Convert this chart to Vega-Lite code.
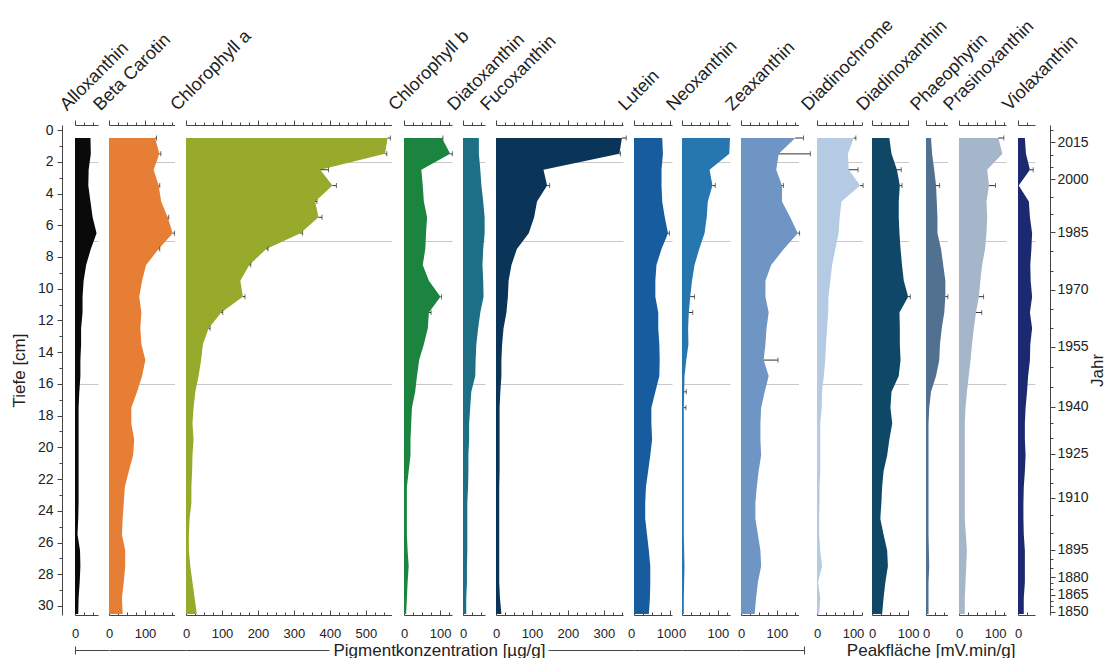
{
"$schema": "https://vega.github.io/schema/vega-lite/v6.json",
"background": "white",
"padding": {"left": 10, "top": 15, "right": 4, "bottom": 0},
"config": {
 "font": "Liberation Sans",
 "view": {"stroke": null},
 "axis": {"labelFont": "Liberation Sans", "titleFont": "Liberation Sans", "labelFontSize": 13, "titleFontSize": 17, "titleFontWeight": "normal", "labelColor": "#222", "titleColor": "#222", "domainColor": "#444", "tickColor": "#444", "grid": false, "gridColor": "#c8c8c8", "labelOverlap": false, "labelFlush": false, "labelBound": false}
},
"datasets": {
"pig": [
{"d":0.5,"Alloxanthin":43,"Beta Carotin":128,"Chlorophyll a":560,"Chlorophyll b":105,"Diatoxanthin":44,"Fucoxanthin":350,"Lutein":78,"Neoxanthin":134,"Zeaxanthin":151,"Diadinochrome":102,"Diadinoxanthin":48,"Phaeophytin":14,"Prasinoxanthin":109,"Violaxanthin":19},
{"d":1.5,"Alloxanthin":44,"Beta Carotin":140,"Chlorophyll a":553,"Chlorophyll b":128,"Diatoxanthin":44,"Fucoxanthin":343,"Lutein":80,"Neoxanthin":132,"Zeaxanthin":105,"Diadinochrome":86,"Diadinoxanthin":54,"Phaeophytin":17,"Prasinoxanthin":120,"Violaxanthin":22},
{"d":2.5,"Alloxanthin":38,"Beta Carotin":124,"Chlorophyll a":373,"Chlorophyll b":48,"Diatoxanthin":48,"Fucoxanthin":132,"Lutein":76,"Neoxanthin":77,"Zeaxanthin":98,"Diadinochrome":88,"Diadinoxanthin":69,"Phaeophytin":23,"Prasinoxanthin":78,"Violaxanthin":33},
{"d":3.5,"Alloxanthin":37,"Beta Carotin":138,"Chlorophyll a":407,"Chlorophyll b":52,"Diatoxanthin":51,"Fucoxanthin":142,"Lutein":76,"Neoxanthin":85,"Zeaxanthin":114,"Diadinochrome":120,"Diadinoxanthin":77,"Phaeophytin":28,"Prasinoxanthin":83,"Violaxanthin":2},
{"d":4.5,"Alloxanthin":43,"Beta Carotin":145,"Chlorophyll a":359,"Chlorophyll b":55,"Diatoxanthin":56,"Fucoxanthin":114,"Lutein":78,"Neoxanthin":72,"Zeaxanthin":114,"Diadinochrome":68,"Diadinoxanthin":74,"Phaeophytin":30,"Prasinoxanthin":76,"Violaxanthin":30},
{"d":5.5,"Alloxanthin":49,"Beta Carotin":163,"Chlorophyll a":368,"Chlorophyll b":64,"Diatoxanthin":60,"Fucoxanthin":106,"Lutein":85,"Neoxanthin":69,"Zeaxanthin":137,"Diadinochrome":63,"Diadinoxanthin":74,"Phaeophytin":32,"Prasinoxanthin":78,"Violaxanthin":33},
{"d":6.5,"Alloxanthin":60,"Beta Carotin":177,"Chlorophyll a":318,"Chlorophyll b":61,"Diatoxanthin":60,"Fucoxanthin":91,"Lutein":94,"Neoxanthin":63,"Zeaxanthin":158,"Diadinochrome":60,"Diadinoxanthin":76,"Phaeophytin":32,"Prasinoxanthin":76,"Violaxanthin":39},
{"d":7.5,"Alloxanthin":44,"Beta Carotin":138,"Chlorophyll a":223,"Chlorophyll b":59,"Diatoxanthin":56,"Fucoxanthin":58,"Lutein":76,"Neoxanthin":48,"Zeaxanthin":119,"Diadinochrome":51,"Diadinoxanthin":79,"Phaeophytin":42,"Prasinoxanthin":72,"Violaxanthin":37},
{"d":8.5,"Alloxanthin":31,"Beta Carotin":103,"Chlorophyll a":176,"Chlorophyll b":52,"Diatoxanthin":54,"Fucoxanthin":43,"Lutein":62,"Neoxanthin":35,"Zeaxanthin":84,"Diadinochrome":42,"Diadinoxanthin":83,"Phaeophytin":48,"Prasinoxanthin":64,"Violaxanthin":34},
{"d":9.5,"Alloxanthin":24,"Beta Carotin":92,"Chlorophyll a":151,"Chlorophyll b":69,"Diatoxanthin":56,"Fucoxanthin":35,"Lutein":59,"Neoxanthin":28,"Zeaxanthin":68,"Diadinochrome":37,"Diadinoxanthin":88,"Phaeophytin":54,"Prasinoxanthin":59,"Violaxanthin":35},
{"d":10.5,"Alloxanthin":21,"Beta Carotin":84,"Chlorophyll a":158,"Chlorophyll b":101,"Diatoxanthin":57,"Fucoxanthin":33,"Lutein":59,"Neoxanthin":23,"Zeaxanthin":68,"Diadinochrome":32,"Diadinoxanthin":100,"Phaeophytin":54,"Prasinoxanthin":55,"Violaxanthin":39},
{"d":11.5,"Alloxanthin":21,"Beta Carotin":90,"Chlorophyll a":98,"Chlorophyll b":69,"Diatoxanthin":48,"Fucoxanthin":29,"Lutein":67,"Neoxanthin":19,"Zeaxanthin":77,"Diadinochrome":31,"Diadinoxanthin":76,"Phaeophytin":51,"Prasinoxanthin":47,"Violaxanthin":33},
{"d":12.5,"Alloxanthin":17,"Beta Carotin":87,"Chlorophyll a":63,"Chlorophyll b":66,"Diatoxanthin":42,"Fucoxanthin":21,"Lutein":67,"Neoxanthin":17,"Zeaxanthin":71,"Diadinochrome":28,"Diadinoxanthin":77,"Phaeophytin":44,"Prasinoxanthin":41,"Violaxanthin":39},
{"d":13.5,"Alloxanthin":17,"Beta Carotin":90,"Chlorophyll a":47,"Chlorophyll b":55,"Diatoxanthin":37,"Fucoxanthin":17,"Lutein":70,"Neoxanthin":18,"Zeaxanthin":68,"Diadinochrome":25,"Diadinoxanthin":77,"Phaeophytin":39,"Prasinoxanthin":36,"Violaxanthin":34},
{"d":14.5,"Alloxanthin":15,"Beta Carotin":101,"Chlorophyll a":42,"Chlorophyll b":42,"Diatoxanthin":35,"Fucoxanthin":15,"Lutein":71,"Neoxanthin":12,"Zeaxanthin":63,"Diadinochrome":23,"Diadinoxanthin":79,"Phaeophytin":37,"Prasinoxanthin":32,"Violaxanthin":33},
{"d":15.5,"Alloxanthin":15,"Beta Carotin":92,"Chlorophyll a":35,"Chlorophyll b":36,"Diatoxanthin":34,"Fucoxanthin":15,"Lutein":70,"Neoxanthin":7,"Zeaxanthin":77,"Diadinochrome":19,"Diadinoxanthin":74,"Phaeophytin":28,"Prasinoxanthin":27,"Violaxanthin":28},
{"d":16.5,"Alloxanthin":12,"Beta Carotin":78,"Chlorophyll a":26,"Chlorophyll b":31,"Diatoxanthin":23,"Fucoxanthin":12,"Lutein":59,"Neoxanthin":6,"Zeaxanthin":66,"Diadinochrome":14,"Diadinoxanthin":54,"Phaeophytin":14,"Prasinoxanthin":22,"Violaxanthin":25},
{"d":17.5,"Alloxanthin":10,"Beta Carotin":62,"Chlorophyll a":21,"Chlorophyll b":22,"Diatoxanthin":20,"Fucoxanthin":10,"Lutein":48,"Neoxanthin":5,"Zeaxanthin":56,"Diadinochrome":13,"Diadinoxanthin":51,"Phaeophytin":9,"Prasinoxanthin":18,"Violaxanthin":21},
{"d":18.5,"Alloxanthin":10,"Beta Carotin":62,"Chlorophyll a":18,"Chlorophyll b":20,"Diatoxanthin":17,"Fucoxanthin":10,"Lutein":48,"Neoxanthin":5,"Zeaxanthin":54,"Diadinochrome":9,"Diadinoxanthin":56,"Phaeophytin":7,"Prasinoxanthin":16,"Violaxanthin":19},
{"d":19.5,"Alloxanthin":10,"Beta Carotin":70,"Chlorophyll a":21,"Chlorophyll b":18,"Diatoxanthin":17,"Fucoxanthin":10,"Lutein":50,"Neoxanthin":5,"Zeaxanthin":54,"Diadinochrome":9,"Diadinoxanthin":48,"Phaeophytin":7,"Prasinoxanthin":16,"Violaxanthin":19},
{"d":20.5,"Alloxanthin":10,"Beta Carotin":67,"Chlorophyll a":18,"Chlorophyll b":18,"Diatoxanthin":15,"Fucoxanthin":10,"Lutein":45,"Neoxanthin":5,"Zeaxanthin":56,"Diadinochrome":9,"Diadinoxanthin":42,"Phaeophytin":7,"Prasinoxanthin":16,"Violaxanthin":21},
{"d":21.5,"Alloxanthin":10,"Beta Carotin":55,"Chlorophyll a":17,"Chlorophyll b":13,"Diatoxanthin":15,"Fucoxanthin":10,"Lutein":39,"Neoxanthin":5,"Zeaxanthin":49,"Diadinochrome":9,"Diadinoxanthin":32,"Phaeophytin":7,"Prasinoxanthin":16,"Violaxanthin":19},
{"d":22.5,"Alloxanthin":10,"Beta Carotin":44,"Chlorophyll a":15,"Chlorophyll b":8,"Diatoxanthin":14,"Fucoxanthin":9,"Lutein":33,"Neoxanthin":5,"Zeaxanthin":44,"Diadinochrome":7,"Diadinoxanthin":28,"Phaeophytin":7,"Prasinoxanthin":16,"Violaxanthin":16},
{"d":23.5,"Alloxanthin":10,"Beta Carotin":41,"Chlorophyll a":15,"Chlorophyll b":8,"Diatoxanthin":12,"Fucoxanthin":9,"Lutein":31,"Neoxanthin":5,"Zeaxanthin":40,"Diadinochrome":7,"Diadinoxanthin":26,"Phaeophytin":7,"Prasinoxanthin":16,"Violaxanthin":15},
{"d":24.5,"Alloxanthin":9,"Beta Carotin":38,"Chlorophyll a":10,"Chlorophyll b":8,"Diatoxanthin":12,"Fucoxanthin":9,"Lutein":31,"Neoxanthin":5,"Zeaxanthin":40,"Diadinochrome":6,"Diadinoxanthin":23,"Phaeophytin":7,"Prasinoxanthin":16,"Violaxanthin":15},
{"d":25.5,"Alloxanthin":7,"Beta Carotin":36,"Chlorophyll a":8,"Chlorophyll b":8,"Diatoxanthin":12,"Fucoxanthin":9,"Lutein":36,"Neoxanthin":5,"Zeaxanthin":47,"Diadinochrome":6,"Diadinoxanthin":32,"Phaeophytin":7,"Prasinoxanthin":19,"Violaxanthin":16},
{"d":26.5,"Alloxanthin":14,"Beta Carotin":45,"Chlorophyll a":8,"Chlorophyll b":10,"Diatoxanthin":12,"Fucoxanthin":9,"Lutein":41,"Neoxanthin":6,"Zeaxanthin":54,"Diadinochrome":9,"Diadinoxanthin":42,"Phaeophytin":8,"Prasinoxanthin":22,"Violaxanthin":19},
{"d":27.5,"Alloxanthin":15,"Beta Carotin":45,"Chlorophyll a":12,"Chlorophyll b":13,"Diatoxanthin":11,"Fucoxanthin":9,"Lutein":45,"Neoxanthin":7,"Zeaxanthin":56,"Diadinochrome":14,"Diadinoxanthin":44,"Phaeophytin":9,"Prasinoxanthin":20,"Violaxanthin":19},
{"d":28.5,"Alloxanthin":13,"Beta Carotin":41,"Chlorophyll a":18,"Chlorophyll b":10,"Diatoxanthin":11,"Fucoxanthin":9,"Lutein":45,"Neoxanthin":6,"Zeaxanthin":47,"Diadinochrome":3,"Diadinoxanthin":37,"Phaeophytin":7,"Prasinoxanthin":18,"Violaxanthin":19},
{"d":29.5,"Alloxanthin":10,"Beta Carotin":36,"Chlorophyll a":24,"Chlorophyll b":8,"Diatoxanthin":9,"Fucoxanthin":11,"Lutein":44,"Neoxanthin":5,"Zeaxanthin":42,"Diadinochrome":9,"Diadinoxanthin":32,"Phaeophytin":7,"Prasinoxanthin":16,"Violaxanthin":16},
{"d":30.5,"Alloxanthin":9,"Beta Carotin":38,"Chlorophyll a":30,"Chlorophyll b":6,"Diatoxanthin":9,"Fucoxanthin":15,"Lutein":41,"Neoxanthin":5,"Zeaxanthin":38,"Diadinochrome":6,"Diadinoxanthin":28,"Phaeophytin":7,"Prasinoxanthin":16,"Violaxanthin":16}
],
"err": [
{"p":"Beta Carotin","d":0.5,"lo":128,"hi":132},
{"p":"Beta Carotin","d":1.5,"lo":140,"hi":144},
{"p":"Beta Carotin","d":3.5,"lo":138,"hi":141},
{"p":"Beta Carotin","d":5.5,"lo":163,"hi":166},
{"p":"Beta Carotin","d":6.5,"lo":177,"hi":182},
{"p":"Beta Carotin","d":7.5,"lo":138,"hi":141},
{"p":"Chlorophyll a","d":0.5,"lo":560,"hi":568},
{"p":"Chlorophyll a","d":1.5,"lo":553,"hi":558},
{"p":"Chlorophyll a","d":2.5,"lo":373,"hi":396},
{"p":"Chlorophyll a","d":3.5,"lo":407,"hi":418},
{"p":"Chlorophyll a","d":4.5,"lo":359,"hi":364},
{"p":"Chlorophyll a","d":5.5,"lo":368,"hi":378},
{"p":"Chlorophyll a","d":6.5,"lo":318,"hi":324},
{"p":"Chlorophyll a","d":7.5,"lo":223,"hi":228},
{"p":"Chlorophyll a","d":8.5,"lo":176,"hi":180},
{"p":"Chlorophyll a","d":10.5,"lo":158,"hi":164},
{"p":"Chlorophyll a","d":11.5,"lo":98,"hi":102},
{"p":"Chlorophyll a","d":12.5,"lo":63,"hi":67},
{"p":"Chlorophyll b","d":0.5,"lo":105,"hi":108},
{"p":"Chlorophyll b","d":1.5,"lo":128,"hi":134},
{"p":"Chlorophyll b","d":10.5,"lo":101,"hi":104},
{"p":"Chlorophyll b","d":11.5,"lo":69,"hi":75},
{"p":"Fucoxanthin","d":0.5,"lo":350,"hi":362},
{"p":"Fucoxanthin","d":1.5,"lo":343,"hi":346},
{"p":"Fucoxanthin","d":3.5,"lo":142,"hi":149},
{"p":"Lutein","d":6.5,"lo":94,"hi":98},
{"p":"Neoxanthin","d":3.5,"lo":85,"hi":93},
{"p":"Neoxanthin","d":10.5,"lo":23,"hi":35},
{"p":"Neoxanthin","d":11.5,"lo":19,"hi":30},
{"p":"Neoxanthin","d":16.5,"lo":6,"hi":12},
{"p":"Neoxanthin","d":17.5,"lo":5,"hi":11},
{"p":"Zeaxanthin","d":0.5,"lo":151,"hi":174},
{"p":"Zeaxanthin","d":1.5,"lo":105,"hi":193},
{"p":"Zeaxanthin","d":3.5,"lo":114,"hi":118},
{"p":"Zeaxanthin","d":6.5,"lo":158,"hi":163},
{"p":"Zeaxanthin","d":14.5,"lo":63,"hi":103},
{"p":"Diadinochrome","d":0.5,"lo":102,"hi":108},
{"p":"Diadinochrome","d":2.5,"lo":88,"hi":114},
{"p":"Diadinochrome","d":3.5,"lo":120,"hi":128},
{"p":"Diadinoxanthin","d":2.5,"lo":69,"hi":81},
{"p":"Diadinoxanthin","d":3.5,"lo":77,"hi":83},
{"p":"Diadinoxanthin","d":10.5,"lo":100,"hi":106},
{"p":"Phaeophytin","d":3.5,"lo":28,"hi":38},
{"p":"Phaeophytin","d":10.5,"lo":54,"hi":61},
{"p":"Prasinoxanthin","d":0.5,"lo":109,"hi":124},
{"p":"Prasinoxanthin","d":3.5,"lo":83,"hi":101},
{"p":"Prasinoxanthin","d":10.5,"lo":55,"hi":68},
{"p":"Prasinoxanthin","d":11.5,"lo":47,"hi":63},
{"p":"Violaxanthin","d":2.5,"lo":33,"hi":42}
],
"brk": [{"b": 0.5}]
},
"spacing": 0,
"bounds": "flush",
"hconcat": [
{"width": 46.5, "height": 490, "resolve": {"scale": {"x": "independent"}, "axis": {"x": "independent", "y": "independent"}}, "layer": [
 {"data": {"name": "pig"}, "mark": {"type": "area", "orient": "horizontal", "color": "#0a0a0a"}, "encoding": {
  "y": {"field": "d", "type": "quantitative", "scale": {"domain": [-0.32, 30.57], "reverse": true, "nice": false, "zero": false}, "axis": {"orient": "left", "values": [0,1,2,3,4,5,6,7,8,9,10,11,12,13,14,15,16,17,18,19,20,21,22,23,24,25,26,27,28,29,30], "labelExpr": "datum.value % 2 == 0 ? datum.label : ''", "tickSize": {"condition": {"test": "datum.value % 2 == 0", "value": 5}, "value": 3}, "labelFontSize": 14, "labelPadding": 4, "title": "Tiefe [cm]", "titlePadding": 9, "grid": true, "gridOpacity": {"condition": {"test": "datum.value == 2 || datum.value == 7 || datum.value == 16", "value": 1}, "value": 0}}},
  "x": {"field": "Alloxanthin", "type": "quantitative", "stack": null, "scale": {"domain": [0, 64], "range": [13, 36], "nice": false}, "axis": {"orient": "bottom", "values": [0,25,50], "labelExpr": "datum.value % 100 == 0 ? datum.label : ''", "tickSize": {"condition": {"test": "datum.value % 100 == 0", "value": -5}, "value": -3}, "labelPadding": 17, "title": null}}}},
 {"data": {"name": "err"}, "transform": [{"filter": "datum.p == 'Alloxanthin'"}], "mark": {"type": "rule", "color": "#333"}, "encoding": {
  "y": {"field": "d", "type": "quantitative", "scale": {"domain": [-0.32, 30.57], "reverse": true, "nice": false, "zero": false}, "axis": null},
  "x": {"field": "lo", "type": "quantitative", "scale": {"domain": [0, 64], "range": [13, 36], "nice": false}, "axis": {"orient": "top", "values": [0,25,50], "labels": false, "tickSize": {"condition": {"test": "datum.value % 100 == 0", "value": 5}, "value": 3}, "title": "Alloxanthin", "titleFontSize": 18, "titleAngle": -45, "titleAlign": "left", "titleBaseline": "alphabetic", "titleX": 4.5, "titleY": -14}},
  "x2": {"field": "hi"}}},
 {"data": {"name": "brk"}, "mark": {"type": "point", "opacity": 0}, "encoding": {
  "x": {"field": "b", "type": "quantitative", "scale": {"domain": [0, 1], "range": [13, 46.5], "nice": false}, "axis": {"orient": "bottom", "offset": 35, "values": [0], "labels": false, "tickSize": 4, "title": null}}}},
 {"data": {"name": "brk"}, "mark": {"type": "point", "opacity": 0}, "encoding": {
  "x": {"field": "b", "type": "quantitative", "scale": {"domain": [0, 1], "range": [13, 46.5], "nice": false}, "axis": {"orient": "bottom", "offset": 35, "values": [0], "labels": false, "domain": false, "tickSize": -4, "title": null}}}}
]},
{"width": 77, "height": 490, "resolve": {"scale": {"x": "independent"}, "axis": {"x": "independent", "y": "independent"}}, "layer": [
 {"data": {"name": "pig"}, "mark": {"type": "area", "orient": "horizontal", "color": "#e67e35"}, "encoding": {
  "y": {"field": "d", "type": "quantitative", "scale": {"domain": [-0.32, 30.57], "reverse": true, "nice": false, "zero": false}, "axis": {"values": [2,7,16], "grid": true, "labels": false, "ticks": false, "domain": false, "title": null}},
  "x": {"field": "Beta Carotin", "type": "quantitative", "stack": null, "scale": {"domain": [0, 182], "range": [0, 65.5], "nice": false}, "axis": {"orient": "bottom", "values": [0,25,50,75,100,125,150,175], "labelExpr": "datum.value % 100 == 0 ? datum.label : ''", "tickSize": {"condition": {"test": "datum.value % 100 == 0", "value": -5}, "value": -3}, "labelPadding": 17, "title": null}}}},
 {"data": {"name": "err"}, "transform": [{"filter": "datum.p == 'Beta Carotin'"}], "mark": {"type": "rule", "color": "#333"}, "encoding": {
  "y": {"field": "d", "type": "quantitative", "scale": {"domain": [-0.32, 30.57], "reverse": true, "nice": false, "zero": false}, "axis": null},
  "x": {"field": "lo", "type": "quantitative", "scale": {"domain": [0, 182], "range": [0, 65.5], "nice": false}, "axis": {"orient": "top", "values": [0,25,50,75,100,125,150,175], "labels": false, "tickSize": {"condition": {"test": "datum.value % 100 == 0", "value": 5}, "value": 3}, "title": "Beta Carotin", "titleFontSize": 18, "titleAngle": -45, "titleAlign": "left", "titleBaseline": "alphabetic", "titleX": -9, "titleY": -14}},
  "x2": {"field": "hi"}}},
 {"data": {"name": "err"}, "transform": [{"filter": "datum.p == 'Beta Carotin'"}], "mark": {"type": "tick", "orient": "vertical", "size": 5, "thickness": 1, "color": "#333"}, "encoding": {
  "y": {"field": "d", "type": "quantitative", "scale": {"domain": [-0.32, 30.57], "reverse": true, "nice": false, "zero": false}, "axis": null},
  "x": {"field": "hi", "type": "quantitative", "scale": {"domain": [0, 182], "range": [0, 65.5], "nice": false}, "axis": null}}},
 {"data": {"name": "brk"}, "mark": {"type": "point", "opacity": 0}, "encoding": {
  "x": {"field": "b", "type": "quantitative", "scale": {"domain": [0, 1], "nice": false}, "axis": {"orient": "bottom", "offset": 35, "ticks": false, "labels": false, "title": null}}}}
]},
{"width": 218, "height": 490, "resolve": {"scale": {"x": "independent"}, "axis": {"x": "independent", "y": "independent"}}, "layer": [
 {"data": {"name": "pig"}, "mark": {"type": "area", "orient": "horizontal", "color": "#97aa2c"}, "encoding": {
  "y": {"field": "d", "type": "quantitative", "scale": {"domain": [-0.32, 30.57], "reverse": true, "nice": false, "zero": false}, "axis": {"values": [2,7,16], "grid": true, "labels": false, "ticks": false, "domain": false, "title": null}},
  "x": {"field": "Chlorophyll a", "type": "quantitative", "stack": null, "scale": {"domain": [0, 571], "range": [0, 205.5], "nice": false}, "axis": {"orient": "bottom", "values": [0,25,50,75,100,125,150,175,200,225,250,275,300,325,350,375,400,425,450,475,500,525,550], "labelExpr": "datum.value % 100 == 0 ? datum.label : ''", "tickSize": {"condition": {"test": "datum.value % 100 == 0", "value": -5}, "value": -3}, "labelPadding": 17, "title": "Pigmentkonzentration [µg/g]", "titleX": 253, "titleY": 35, "titleAlign": "center", "titleBaseline": "middle"}}}},
 {"data": {"name": "err"}, "transform": [{"filter": "datum.p == 'Chlorophyll a'"}], "mark": {"type": "rule", "color": "#333"}, "encoding": {
  "y": {"field": "d", "type": "quantitative", "scale": {"domain": [-0.32, 30.57], "reverse": true, "nice": false, "zero": false}, "axis": null},
  "x": {"field": "lo", "type": "quantitative", "scale": {"domain": [0, 571], "range": [0, 205.5], "nice": false}, "axis": {"orient": "top", "values": [0,25,50,75,100,125,150,175,200,225,250,275,300,325,350,375,400,425,450,475,500,525,550], "labels": false, "tickSize": {"condition": {"test": "datum.value % 100 == 0", "value": 5}, "value": 3}, "title": "Chlorophyll a", "titleFontSize": 18, "titleAngle": -45, "titleAlign": "left", "titleBaseline": "alphabetic", "titleX": -9, "titleY": -14}},
  "x2": {"field": "hi"}}},
 {"data": {"name": "err"}, "transform": [{"filter": "datum.p == 'Chlorophyll a'"}], "mark": {"type": "tick", "orient": "vertical", "size": 5, "thickness": 1, "color": "#333"}, "encoding": {
  "y": {"field": "d", "type": "quantitative", "scale": {"domain": [-0.32, 30.57], "reverse": true, "nice": false, "zero": false}, "axis": null},
  "x": {"field": "hi", "type": "quantitative", "scale": {"domain": [0, 571], "range": [0, 205.5], "nice": false}, "axis": null}}},
 {"data": {"name": "brk"}, "mark": {"type": "point", "opacity": 0}, "encoding": {
  "x": {"field": "b", "type": "quantitative", "scale": {"domain": [0, 1], "range": [0, 143], "nice": false}, "axis": {"orient": "bottom", "offset": 35, "ticks": false, "labels": false, "title": null}}}}
]},
{"width": 59, "height": 490, "resolve": {"scale": {"x": "independent"}, "axis": {"x": "independent", "y": "independent"}}, "layer": [
 {"data": {"name": "pig"}, "mark": {"type": "area", "orient": "horizontal", "color": "#1b8540"}, "encoding": {
  "y": {"field": "d", "type": "quantitative", "scale": {"domain": [-0.32, 30.57], "reverse": true, "nice": false, "zero": false}, "axis": {"values": [2,7,16], "grid": true, "labels": false, "ticks": false, "domain": false, "title": null}},
  "x": {"field": "Chlorophyll b", "type": "quantitative", "stack": null, "scale": {"domain": [0, 133], "range": [0, 48], "nice": false}, "axis": {"orient": "bottom", "values": [0,25,50,75,100,125], "labelExpr": "datum.value % 100 == 0 ? datum.label : ''", "tickSize": {"condition": {"test": "datum.value % 100 == 0", "value": -5}, "value": -3}, "labelPadding": 17, "title": null}}}},
 {"data": {"name": "err"}, "transform": [{"filter": "datum.p == 'Chlorophyll b'"}], "mark": {"type": "rule", "color": "#333"}, "encoding": {
  "y": {"field": "d", "type": "quantitative", "scale": {"domain": [-0.32, 30.57], "reverse": true, "nice": false, "zero": false}, "axis": null},
  "x": {"field": "lo", "type": "quantitative", "scale": {"domain": [0, 133], "range": [0, 48], "nice": false}, "axis": {"orient": "top", "values": [0,25,50,75,100,125], "labels": false, "tickSize": {"condition": {"test": "datum.value % 100 == 0", "value": 5}, "value": 3}, "title": "Chlorophyll b", "titleFontSize": 18, "titleAngle": -45, "titleAlign": "left", "titleBaseline": "alphabetic", "titleX": -9, "titleY": -14}},
  "x2": {"field": "hi"}}},
 {"data": {"name": "err"}, "transform": [{"filter": "datum.p == 'Chlorophyll b'"}], "mark": {"type": "tick", "orient": "vertical", "size": 5, "thickness": 1, "color": "#333"}, "encoding": {
  "y": {"field": "d", "type": "quantitative", "scale": {"domain": [-0.32, 30.57], "reverse": true, "nice": false, "zero": false}, "axis": null},
  "x": {"field": "hi", "type": "quantitative", "scale": {"domain": [0, 133], "range": [0, 48], "nice": false}, "axis": null}}}
]},
{"width": 33, "height": 490, "resolve": {"scale": {"x": "independent"}, "axis": {"x": "independent", "y": "independent"}}, "layer": [
 {"data": {"name": "pig"}, "mark": {"type": "area", "orient": "horizontal", "color": "#1d6f86"}, "encoding": {
  "y": {"field": "d", "type": "quantitative", "scale": {"domain": [-0.32, 30.57], "reverse": true, "nice": false, "zero": false}, "axis": {"values": [2,7,16], "grid": true, "labels": false, "ticks": false, "domain": false, "title": null}},
  "x": {"field": "Diatoxanthin", "type": "quantitative", "stack": null, "scale": {"domain": [0, 61], "range": [0, 22], "nice": false}, "axis": {"orient": "bottom", "values": [0,25,50], "labelExpr": "datum.value % 100 == 0 ? datum.label : ''", "tickSize": {"condition": {"test": "datum.value % 100 == 0", "value": -5}, "value": -3}, "labelPadding": 17, "title": null}}}},
 {"data": {"name": "err"}, "transform": [{"filter": "datum.p == 'Diatoxanthin'"}], "mark": {"type": "rule", "color": "#333"}, "encoding": {
  "y": {"field": "d", "type": "quantitative", "scale": {"domain": [-0.32, 30.57], "reverse": true, "nice": false, "zero": false}, "axis": null},
  "x": {"field": "lo", "type": "quantitative", "scale": {"domain": [0, 61], "range": [0, 22], "nice": false}, "axis": {"orient": "top", "values": [0,25,50], "labels": false, "tickSize": {"condition": {"test": "datum.value % 100 == 0", "value": 5}, "value": 3}, "title": "Diatoxanthin", "titleFontSize": 18, "titleAngle": -45, "titleAlign": "left", "titleBaseline": "alphabetic", "titleX": -9, "titleY": -14}},
  "x2": {"field": "hi"}}}
]},
{"width": 138, "height": 490, "resolve": {"scale": {"x": "independent"}, "axis": {"x": "independent", "y": "independent"}}, "layer": [
 {"data": {"name": "pig"}, "mark": {"type": "area", "orient": "horizontal", "color": "#0b3459"}, "encoding": {
  "y": {"field": "d", "type": "quantitative", "scale": {"domain": [-0.32, 30.57], "reverse": true, "nice": false, "zero": false}, "axis": {"values": [2,7,16], "grid": true, "labels": false, "ticks": false, "domain": false, "title": null}},
  "x": {"field": "Fucoxanthin", "type": "quantitative", "stack": null, "scale": {"domain": [0, 353], "range": [0, 127], "nice": false}, "axis": {"orient": "bottom", "values": [0,25,50,75,100,125,150,175,200,225,250,275,300,325,350], "labelExpr": "datum.value % 100 == 0 ? datum.label : ''", "tickSize": {"condition": {"test": "datum.value % 100 == 0", "value": -5}, "value": -3}, "labelPadding": 17, "title": null}}}},
 {"data": {"name": "err"}, "transform": [{"filter": "datum.p == 'Fucoxanthin'"}], "mark": {"type": "rule", "color": "#333"}, "encoding": {
  "y": {"field": "d", "type": "quantitative", "scale": {"domain": [-0.32, 30.57], "reverse": true, "nice": false, "zero": false}, "axis": null},
  "x": {"field": "lo", "type": "quantitative", "scale": {"domain": [0, 353], "range": [0, 127], "nice": false}, "axis": {"orient": "top", "values": [0,25,50,75,100,125,150,175,200,225,250,275,300,325,350], "labels": false, "tickSize": {"condition": {"test": "datum.value % 100 == 0", "value": 5}, "value": 3}, "title": "Fucoxanthin", "titleFontSize": 18, "titleAngle": -45, "titleAlign": "left", "titleBaseline": "alphabetic", "titleX": -9, "titleY": -14}},
  "x2": {"field": "hi"}}},
 {"data": {"name": "err"}, "transform": [{"filter": "datum.p == 'Fucoxanthin'"}], "mark": {"type": "tick", "orient": "vertical", "size": 5, "thickness": 1, "color": "#333"}, "encoding": {
  "y": {"field": "d", "type": "quantitative", "scale": {"domain": [-0.32, 30.57], "reverse": true, "nice": false, "zero": false}, "axis": null},
  "x": {"field": "hi", "type": "quantitative", "scale": {"domain": [0, 353], "range": [0, 127], "nice": false}, "axis": null}}},
 {"data": {"name": "brk"}, "mark": {"type": "point", "opacity": 0}, "encoding": {
  "x": {"field": "b", "type": "quantitative", "scale": {"domain": [0, 1], "range": [52, 138], "nice": false}, "axis": {"orient": "bottom", "offset": 35, "ticks": false, "labels": false, "title": null}}}}
]},
{"width": 48, "height": 490, "resolve": {"scale": {"x": "independent"}, "axis": {"x": "independent", "y": "independent"}}, "layer": [
 {"data": {"name": "pig"}, "mark": {"type": "area", "orient": "horizontal", "color": "#165c9e"}, "encoding": {
  "y": {"field": "d", "type": "quantitative", "scale": {"domain": [-0.32, 30.57], "reverse": true, "nice": false, "zero": false}, "axis": {"values": [2,7,16], "grid": true, "labels": false, "ticks": false, "domain": false, "title": null}},
  "x": {"field": "Lutein", "type": "quantitative", "stack": null, "scale": {"domain": [0, 105], "range": [0, 38], "nice": false}, "axis": {"orient": "bottom", "values": [0,25,50,75,100], "labelExpr": "datum.value % 100 == 0 ? datum.label : ''", "tickSize": {"condition": {"test": "datum.value % 100 == 0", "value": -5}, "value": -3}, "labelPadding": 17, "labelOffset": -3, "title": null}}}},
 {"data": {"name": "err"}, "transform": [{"filter": "datum.p == 'Lutein'"}], "mark": {"type": "rule", "color": "#333"}, "encoding": {
  "y": {"field": "d", "type": "quantitative", "scale": {"domain": [-0.32, 30.57], "reverse": true, "nice": false, "zero": false}, "axis": null},
  "x": {"field": "lo", "type": "quantitative", "scale": {"domain": [0, 105], "range": [0, 38], "nice": false}, "axis": {"orient": "top", "values": [0,25,50,75,100], "labels": false, "tickSize": {"condition": {"test": "datum.value % 100 == 0", "value": 5}, "value": 3}, "title": "Lutein", "titleFontSize": 18, "titleAngle": -45, "titleAlign": "left", "titleBaseline": "alphabetic", "titleX": -9, "titleY": -14}},
  "x2": {"field": "hi"}}},
 {"data": {"name": "err"}, "transform": [{"filter": "datum.p == 'Lutein'"}], "mark": {"type": "tick", "orient": "vertical", "size": 5, "thickness": 1, "color": "#333"}, "encoding": {
  "y": {"field": "d", "type": "quantitative", "scale": {"domain": [-0.32, 30.57], "reverse": true, "nice": false, "zero": false}, "axis": null},
  "x": {"field": "hi", "type": "quantitative", "scale": {"domain": [0, 105], "range": [0, 38], "nice": false}, "axis": null}}},
 {"data": {"name": "brk"}, "mark": {"type": "point", "opacity": 0}, "encoding": {
  "x": {"field": "b", "type": "quantitative", "scale": {"domain": [0, 1], "nice": false}, "axis": {"orient": "bottom", "offset": 35, "ticks": false, "labels": false, "title": null}}}}
]},
{"width": 59, "height": 490, "resolve": {"scale": {"x": "independent"}, "axis": {"x": "independent", "y": "independent"}}, "layer": [
 {"data": {"name": "pig"}, "mark": {"type": "area", "orient": "horizontal", "color": "#2676b0"}, "encoding": {
  "y": {"field": "d", "type": "quantitative", "scale": {"domain": [-0.32, 30.57], "reverse": true, "nice": false, "zero": false}, "axis": {"values": [2,7,16], "grid": true, "labels": false, "ticks": false, "domain": false, "title": null}},
  "x": {"field": "Neoxanthin", "type": "quantitative", "stack": null, "scale": {"domain": [0, 134], "range": [0, 48], "nice": false}, "axis": {"orient": "bottom", "values": [0,25,50,75,100,125], "labelExpr": "datum.value % 100 == 0 ? datum.label : ''", "tickSize": {"condition": {"test": "datum.value % 100 == 0", "value": -5}, "value": -3}, "labelPadding": 17, "title": null}}}},
 {"data": {"name": "err"}, "transform": [{"filter": "datum.p == 'Neoxanthin'"}], "mark": {"type": "rule", "color": "#333"}, "encoding": {
  "y": {"field": "d", "type": "quantitative", "scale": {"domain": [-0.32, 30.57], "reverse": true, "nice": false, "zero": false}, "axis": null},
  "x": {"field": "lo", "type": "quantitative", "scale": {"domain": [0, 134], "range": [0, 48], "nice": false}, "axis": {"orient": "top", "values": [0,25,50,75,100,125], "labels": false, "tickSize": {"condition": {"test": "datum.value % 100 == 0", "value": 5}, "value": 3}, "title": "Neoxanthin", "titleFontSize": 18, "titleAngle": -45, "titleAlign": "left", "titleBaseline": "alphabetic", "titleX": -9, "titleY": -14}},
  "x2": {"field": "hi"}}},
 {"data": {"name": "err"}, "transform": [{"filter": "datum.p == 'Neoxanthin'"}], "mark": {"type": "tick", "orient": "vertical", "size": 5, "thickness": 1, "color": "#333"}, "encoding": {
  "y": {"field": "d", "type": "quantitative", "scale": {"domain": [-0.32, 30.57], "reverse": true, "nice": false, "zero": false}, "axis": null},
  "x": {"field": "hi", "type": "quantitative", "scale": {"domain": [0, 134], "range": [0, 48], "nice": false}, "axis": null}}},
 {"data": {"name": "brk"}, "mark": {"type": "point", "opacity": 0}, "encoding": {
  "x": {"field": "b", "type": "quantitative", "scale": {"domain": [0, 1], "nice": false}, "axis": {"orient": "bottom", "offset": 35, "ticks": false, "labels": false, "title": null}}}}
]},
{"width": 76, "height": 490, "resolve": {"scale": {"x": "independent"}, "axis": {"x": "independent", "y": "independent"}}, "layer": [
 {"data": {"name": "pig"}, "mark": {"type": "area", "orient": "horizontal", "color": "#6e95c3"}, "encoding": {
  "y": {"field": "d", "type": "quantitative", "scale": {"domain": [-0.32, 30.57], "reverse": true, "nice": false, "zero": false}, "axis": {"values": [2,7,16], "grid": true, "labels": false, "ticks": false, "domain": false, "title": null}},
  "x": {"field": "Zeaxanthin", "type": "quantitative", "stack": null, "scale": {"domain": [0, 160], "range": [0, 57.5], "nice": false}, "axis": {"orient": "bottom", "values": [0,25,50,75,100,125,150], "labelExpr": "datum.value % 100 == 0 ? datum.label : ''", "tickSize": {"condition": {"test": "datum.value % 100 == 0", "value": -5}, "value": -3}, "labelPadding": 17, "title": null}}}},
 {"data": {"name": "err"}, "transform": [{"filter": "datum.p == 'Zeaxanthin'"}], "mark": {"type": "rule", "color": "#333"}, "encoding": {
  "y": {"field": "d", "type": "quantitative", "scale": {"domain": [-0.32, 30.57], "reverse": true, "nice": false, "zero": false}, "axis": null},
  "x": {"field": "lo", "type": "quantitative", "scale": {"domain": [0, 160], "range": [0, 57.5], "nice": false}, "axis": {"orient": "top", "values": [0,25,50,75,100,125,150], "labels": false, "tickSize": {"condition": {"test": "datum.value % 100 == 0", "value": 5}, "value": 3}, "title": "Zeaxanthin", "titleFontSize": 18, "titleAngle": -45, "titleAlign": "left", "titleBaseline": "alphabetic", "titleX": -9, "titleY": -14}},
  "x2": {"field": "hi"}}},
 {"data": {"name": "err"}, "transform": [{"filter": "datum.p == 'Zeaxanthin'"}], "mark": {"type": "tick", "orient": "vertical", "size": 5, "thickness": 1, "color": "#333"}, "encoding": {
  "y": {"field": "d", "type": "quantitative", "scale": {"domain": [-0.32, 30.57], "reverse": true, "nice": false, "zero": false}, "axis": null},
  "x": {"field": "hi", "type": "quantitative", "scale": {"domain": [0, 160], "range": [0, 57.5], "nice": false}, "axis": null}}},
 {"data": {"name": "brk"}, "mark": {"type": "point", "opacity": 0}, "encoding": {
  "x": {"field": "b", "type": "quantitative", "scale": {"domain": [0, 1], "range": [0, 63], "nice": false}, "axis": {"orient": "bottom", "offset": 35, "values": [1], "labels": false, "tickSize": 4, "title": null}}}},
 {"data": {"name": "brk"}, "mark": {"type": "point", "opacity": 0}, "encoding": {
  "x": {"field": "b", "type": "quantitative", "scale": {"domain": [0, 1], "range": [0, 63], "nice": false}, "axis": {"orient": "bottom", "offset": 35, "values": [1], "labels": false, "domain": false, "tickSize": -4, "title": null}}}}
]},
{"width": 55, "height": 490, "resolve": {"scale": {"x": "independent"}, "axis": {"x": "independent", "y": "independent"}}, "layer": [
 {"data": {"name": "pig"}, "mark": {"type": "area", "orient": "horizontal", "color": "#b5cae3"}, "encoding": {
  "y": {"field": "d", "type": "quantitative", "scale": {"domain": [-0.32, 30.57], "reverse": true, "nice": false, "zero": false}, "axis": {"values": [2,7,16], "grid": true, "labels": false, "ticks": false, "domain": false, "title": null}},
  "x": {"field": "Diadinochrome", "type": "quantitative", "stack": null, "scale": {"domain": [0, 125], "range": [0, 45], "nice": false}, "axis": {"orient": "bottom", "values": [0,25,50,75,100,125], "labelExpr": "datum.value % 100 == 0 ? datum.label : ''", "tickSize": {"condition": {"test": "datum.value % 100 == 0", "value": -5}, "value": -3}, "labelPadding": 17, "title": "Peakfläche [mV.min/g]", "titleX": 113.6, "titleY": 35, "titleAlign": "center", "titleBaseline": "middle"}}}},
 {"data": {"name": "err"}, "transform": [{"filter": "datum.p == 'Diadinochrome'"}], "mark": {"type": "rule", "color": "#333"}, "encoding": {
  "y": {"field": "d", "type": "quantitative", "scale": {"domain": [-0.32, 30.57], "reverse": true, "nice": false, "zero": false}, "axis": null},
  "x": {"field": "lo", "type": "quantitative", "scale": {"domain": [0, 125], "range": [0, 45], "nice": false}, "axis": {"orient": "top", "values": [0,25,50,75,100,125], "labels": false, "tickSize": {"condition": {"test": "datum.value % 100 == 0", "value": 5}, "value": 3}, "title": "Diadinochrome", "titleFontSize": 18, "titleAngle": -45, "titleAlign": "left", "titleBaseline": "alphabetic", "titleX": -9, "titleY": -14}},
  "x2": {"field": "hi"}}},
 {"data": {"name": "err"}, "transform": [{"filter": "datum.p == 'Diadinochrome'"}], "mark": {"type": "tick", "orient": "vertical", "size": 5, "thickness": 1, "color": "#333"}, "encoding": {
  "y": {"field": "d", "type": "quantitative", "scale": {"domain": [-0.32, 30.57], "reverse": true, "nice": false, "zero": false}, "axis": null},
  "x": {"field": "hi", "type": "quantitative", "scale": {"domain": [0, 125], "range": [0, 45], "nice": false}, "axis": null}}}
]},
{"width": 54, "height": 490, "resolve": {"scale": {"x": "independent"}, "axis": {"x": "independent", "y": "independent"}}, "layer": [
 {"data": {"name": "pig"}, "mark": {"type": "area", "orient": "horizontal", "color": "#0f4866"}, "encoding": {
  "y": {"field": "d", "type": "quantitative", "scale": {"domain": [-0.32, 30.57], "reverse": true, "nice": false, "zero": false}, "axis": {"values": [2,7,16], "grid": true, "labels": false, "ticks": false, "domain": false, "title": null}},
  "x": {"field": "Diadinoxanthin", "type": "quantitative", "stack": null, "scale": {"domain": [0, 101], "range": [0, 36.5], "nice": false}, "axis": {"orient": "bottom", "values": [0,25,50,75,100], "labelExpr": "datum.value % 100 == 0 ? datum.label : ''", "tickSize": {"condition": {"test": "datum.value % 100 == 0", "value": -5}, "value": -3}, "labelPadding": 17, "title": null}}}},
 {"data": {"name": "err"}, "transform": [{"filter": "datum.p == 'Diadinoxanthin'"}], "mark": {"type": "rule", "color": "#333"}, "encoding": {
  "y": {"field": "d", "type": "quantitative", "scale": {"domain": [-0.32, 30.57], "reverse": true, "nice": false, "zero": false}, "axis": null},
  "x": {"field": "lo", "type": "quantitative", "scale": {"domain": [0, 101], "range": [0, 36.5], "nice": false}, "axis": {"orient": "top", "values": [0,25,50,75,100], "labels": false, "tickSize": {"condition": {"test": "datum.value % 100 == 0", "value": 5}, "value": 3}, "title": "Diadinoxanthin", "titleFontSize": 18, "titleAngle": -45, "titleAlign": "left", "titleBaseline": "alphabetic", "titleX": -9, "titleY": -14}},
  "x2": {"field": "hi"}}},
 {"data": {"name": "err"}, "transform": [{"filter": "datum.p == 'Diadinoxanthin'"}], "mark": {"type": "tick", "orient": "vertical", "size": 5, "thickness": 1, "color": "#333"}, "encoding": {
  "y": {"field": "d", "type": "quantitative", "scale": {"domain": [-0.32, 30.57], "reverse": true, "nice": false, "zero": false}, "axis": null},
  "x": {"field": "hi", "type": "quantitative", "scale": {"domain": [0, 101], "range": [0, 36.5], "nice": false}, "axis": null}}}
]},
{"width": 33, "height": 490, "resolve": {"scale": {"x": "independent"}, "axis": {"x": "independent", "y": "independent"}}, "layer": [
 {"data": {"name": "pig"}, "mark": {"type": "area", "orient": "horizontal", "color": "#52708f"}, "encoding": {
  "y": {"field": "d", "type": "quantitative", "scale": {"domain": [-0.32, 30.57], "reverse": true, "nice": false, "zero": false}, "axis": {"values": [2,7,16], "grid": true, "labels": false, "ticks": false, "domain": false, "title": null}},
  "x": {"field": "Phaeophytin", "type": "quantitative", "stack": null, "scale": {"domain": [0, 60], "range": [0, 21.5], "nice": false}, "axis": {"orient": "bottom", "values": [0,25,50], "labelExpr": "datum.value % 100 == 0 ? datum.label : ''", "tickSize": {"condition": {"test": "datum.value % 100 == 0", "value": -5}, "value": -3}, "labelPadding": 17, "title": null}}}},
 {"data": {"name": "err"}, "transform": [{"filter": "datum.p == 'Phaeophytin'"}], "mark": {"type": "rule", "color": "#333"}, "encoding": {
  "y": {"field": "d", "type": "quantitative", "scale": {"domain": [-0.32, 30.57], "reverse": true, "nice": false, "zero": false}, "axis": null},
  "x": {"field": "lo", "type": "quantitative", "scale": {"domain": [0, 60], "range": [0, 21.5], "nice": false}, "axis": {"orient": "top", "values": [0,25,50], "labels": false, "tickSize": {"condition": {"test": "datum.value % 100 == 0", "value": 5}, "value": 3}, "title": "Phaeophytin", "titleFontSize": 18, "titleAngle": -45, "titleAlign": "left", "titleBaseline": "alphabetic", "titleX": -9, "titleY": -14}},
  "x2": {"field": "hi"}}},
 {"data": {"name": "err"}, "transform": [{"filter": "datum.p == 'Phaeophytin'"}], "mark": {"type": "tick", "orient": "vertical", "size": 5, "thickness": 1, "color": "#333"}, "encoding": {
  "y": {"field": "d", "type": "quantitative", "scale": {"domain": [-0.32, 30.57], "reverse": true, "nice": false, "zero": false}, "axis": null},
  "x": {"field": "hi", "type": "quantitative", "scale": {"domain": [0, 60], "range": [0, 21.5], "nice": false}, "axis": null}}}
]},
{"width": 59, "height": 490, "resolve": {"scale": {"x": "independent"}, "axis": {"x": "independent", "y": "independent"}}, "layer": [
 {"data": {"name": "pig"}, "mark": {"type": "area", "orient": "horizontal", "color": "#a5b6cb"}, "encoding": {
  "y": {"field": "d", "type": "quantitative", "scale": {"domain": [-0.32, 30.57], "reverse": true, "nice": false, "zero": false}, "axis": {"values": [2,7,16], "grid": true, "labels": false, "ticks": false, "domain": false, "title": null}},
  "x": {"field": "Prasinoxanthin", "type": "quantitative", "stack": null, "scale": {"domain": [0, 130], "range": [0, 47], "nice": false}, "axis": {"orient": "bottom", "values": [0,25,50,75,100,125], "labelExpr": "datum.value % 100 == 0 ? datum.label : ''", "tickSize": {"condition": {"test": "datum.value % 100 == 0", "value": -5}, "value": -3}, "labelPadding": 17, "title": null}}}},
 {"data": {"name": "err"}, "transform": [{"filter": "datum.p == 'Prasinoxanthin'"}], "mark": {"type": "rule", "color": "#333"}, "encoding": {
  "y": {"field": "d", "type": "quantitative", "scale": {"domain": [-0.32, 30.57], "reverse": true, "nice": false, "zero": false}, "axis": null},
  "x": {"field": "lo", "type": "quantitative", "scale": {"domain": [0, 130], "range": [0, 47], "nice": false}, "axis": {"orient": "top", "values": [0,25,50,75,100,125], "labels": false, "tickSize": {"condition": {"test": "datum.value % 100 == 0", "value": 5}, "value": 3}, "title": "Prasinoxanthin", "titleFontSize": 18, "titleAngle": -45, "titleAlign": "left", "titleBaseline": "alphabetic", "titleX": -9, "titleY": -14}},
  "x2": {"field": "hi"}}},
 {"data": {"name": "err"}, "transform": [{"filter": "datum.p == 'Prasinoxanthin'"}], "mark": {"type": "tick", "orient": "vertical", "size": 5, "thickness": 1, "color": "#333"}, "encoding": {
  "y": {"field": "d", "type": "quantitative", "scale": {"domain": [-0.32, 30.57], "reverse": true, "nice": false, "zero": false}, "axis": null},
  "x": {"field": "hi", "type": "quantitative", "scale": {"domain": [0, 130], "range": [0, 47], "nice": false}, "axis": null}}}
]},
{"width": 17, "height": 490, "resolve": {"scale": {"x": "independent"}, "axis": {"x": "independent", "y": "independent"}}, "layer": [
 {"data": {"name": "pig"}, "mark": {"type": "area", "orient": "horizontal", "color": "#1b2a70"}, "encoding": {
  "y": {"field": "d", "type": "quantitative", "scale": {"domain": [-0.32, 30.57], "reverse": true, "nice": false, "zero": false}, "axis": {"values": [2,7,16], "grid": true, "labels": false, "ticks": false, "domain": false, "title": null}},
  "x": {"field": "Violaxanthin", "type": "quantitative", "stack": null, "scale": {"domain": [0, 47], "range": [0, 17], "nice": false}, "axis": {"orient": "bottom", "values": [0,25], "labelExpr": "datum.value % 100 == 0 ? datum.label : ''", "tickSize": {"condition": {"test": "datum.value % 100 == 0", "value": -5}, "value": -3}, "labelPadding": 17, "title": null}}}},
 {"data": {"name": "err"}, "transform": [{"filter": "datum.p == 'Violaxanthin'"}], "mark": {"type": "rule", "color": "#333"}, "encoding": {
  "y": {"field": "d", "type": "quantitative", "scale": {"domain": [-0.32, 30.57], "reverse": true, "nice": false, "zero": false}, "axis": {"orient": "right", "offset": 15, "values": [0,0.76,1.54,2.31,3.09,4.2,5.32,6.43,7.65,8.86,10.08,11.28,12.47,13.67,14.93,16.19,17.45,18.44,19.43,20.42,21.34,22.27,23.19,24.28,25.37,26.46,27.04,27.62,28.2,28.57,28.93,29.3,29.66,30.01,30.37], "labelExpr": "indexof([0.76,3.09,6.43,10.08,13.67,17.45,20.42,23.19,26.46,28.2,29.3,30.37], datum.value) >= 0 ? ['2015','2000','1985','1970','1955','1940','1925','1910','1895','1880','1865','1850'][indexof([0.76,3.09,6.43,10.08,13.67,17.45,20.42,23.19,26.46,28.2,29.3,30.37], datum.value)] : ''", "tickSize": {"condition": {"test": "indexof([0.76,3.09,6.43,10.08,13.67,17.45,20.42,23.19,26.46,28.2,29.3,30.37], datum.value) >= 0", "value": 5}, "value": 3}, "labelFontSize": 14, "labelPadding": 2, "title": "Jahr", "titleAngle": 270, "titlePadding": 18, "grid": false}},
  "x": {"field": "lo", "type": "quantitative", "scale": {"domain": [0, 47], "range": [0, 17], "nice": false}, "axis": {"orient": "top", "values": [0,25], "labels": false, "tickSize": {"condition": {"test": "datum.value % 100 == 0", "value": 5}, "value": 3}, "title": "Violaxanthin", "titleFontSize": 18, "titleAngle": -45, "titleAlign": "left", "titleBaseline": "alphabetic", "titleX": -9, "titleY": -14}},
  "x2": {"field": "hi"}}},
 {"data": {"name": "err"}, "transform": [{"filter": "datum.p == 'Violaxanthin'"}], "mark": {"type": "tick", "orient": "vertical", "size": 5, "thickness": 1, "color": "#333"}, "encoding": {
  "y": {"field": "d", "type": "quantitative", "scale": {"domain": [-0.32, 30.57], "reverse": true, "nice": false, "zero": false}, "axis": null},
  "x": {"field": "hi", "type": "quantitative", "scale": {"domain": [0, 47], "range": [0, 17], "nice": false}, "axis": null}}}
]}
]
}
